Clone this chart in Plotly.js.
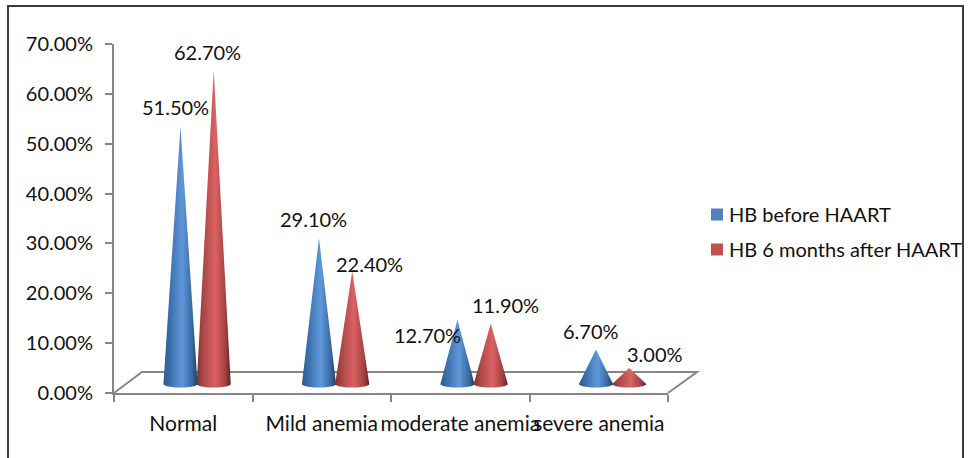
<!DOCTYPE html>
<html><head><meta charset="utf-8">
<script src="https://cdn.plot.ly/plotly-3.0.1.min.js"></script>
<style>html,body{margin:0;padding:0;background:#fff}#c{width:968px;height:458px}</style>
</head><body><div id="c"></div>
<script>
var categories = ["Normal", "Mild anemia", "moderate anemia", "severe anemia"];
var seriesNames = ["HB before HAART", "HB 6 months after HAART"];
var hbBefore = [51.5, 29.1, 12.7, 6.7];
var hbAfter = [62.7, 22.4, 11.9, 3.0];
var yTicks = [0, 10, 20, 30, 40, 50, 60, 70];

// label offsets from each cone tip, px
var beforeShift = [[-5, 19], [-5, 19], [-30, -15], [-5, 19]];
var afterShift = [[-6, 18], [17, 7], [15, 19], [26, 14]];

var W = 968, H = 458, L = 114, R = 668, T = 44, B = 393;
var depthX = 0.1, depthTip = 2, baseY = 1.8, baseRy = 0.7, halfW = 0.123, gap = 0.12;
var textFont = {family: 'Lato, Carlito, sans-serif', size: 20, color: '#111'};
var catFont = {family: 'Lato, Carlito, sans-serif', size: 21, color: '#111'};
var axisGrey = '#868686';
var blueScale = [[0, '#2c5a8c'], [0.18, '#3a6eaa'], [0.55, '#5f98da'], [0.85, '#36689f'], [1, '#1c3f60']];
var redScale = [[0, '#853030'], [0.18, '#a84646'], [0.55, '#dc6262'], [0.85, '#a04040'], [1, '#651f1f']];

function cone(cat, value, side, scale) {
  var cx = cat + 0.5 + depthX + side * gap, xs = [cx], ys = [value + depthTip];
  for (var i = 0; i <= 24; i++) {
    var a = Math.PI * i / 24;
    xs.push(cx - halfW * Math.cos(a));
    ys.push(baseY - baseRy * Math.sin(a));
  }
  xs.push(cx); ys.push(value + depthTip);
  return {type: 'scatter', mode: 'none', x: xs, y: ys, fill: 'toself',
    fillgradient: {type: 'horizontal', colorscale: scale},
    showlegend: false, hoverinfo: 'skip'};
}
var traces = [], annotations = [];
function addSeries(values, side, scale, shifts) {
  values.forEach(function (v, i) {
    traces.push(cone(i, v, side, scale));
    annotations.push({x: i + 0.5 + depthX + side * gap, y: v + depthTip, text: v.toFixed(2) + '%',
      showarrow: false, xanchor: 'center', yanchor: 'middle',
      xshift: shifts[i][0], yshift: shifts[i][1], font: textFont});
  });
}
addSeries(hbBefore, -1, blueScale, beforeShift);
addSeries(hbAfter, 1, redScale, afterShift);

[[seriesNames[0], '#4f81bd'], [seriesNames[1], '#c0504d']].forEach(function (s) {
  traces.push({type: 'bar', name: s[0], legendgroup: s[0], x: [0.5], y: [0], width: [0],
    marker: {color: s[1], line: {width: 0}}, hoverinfo: 'skip'});
});

function px(x) { return (x - L) / (R - L); }
function py(y) { return (B - y) / (B - T); }

var layout = {
  width: W, height: H, margin: {l: L, r: W - R, t: T, b: H - B},
  paper_bgcolor: '#fff', plot_bgcolor: 'rgba(0,0,0,0)', showlegend: true,
  font: textFont,
  xaxis: {range: [0, 4], tickmode: 'array', tickvals: [0.5, 1.5, 2.5, 3.5], ticktext: categories,
    tickangle: 0, ticks: '', ticklabelstandoff: 11, showgrid: false, zeroline: false,
    showline: true, linecolor: axisGrey, linewidth: 2, tickfont: catFont,
    minor: {tickmode: 'array', tickvals: [0, 1, 2, 3, 4], ticks: 'outside', ticklen: 7, tickwidth: 2, tickcolor: axisGrey, showgrid: false}},
  yaxis: {range: [0, 70], tickmode: 'array', tickvals: yTicks,
    ticktext: yTicks.map(function (t) { return t.toFixed(2) + '%'; }),
    ticks: 'outside', ticklen: 7, ticklabelstandoff: 8, tickwidth: 2, tickcolor: axisGrey, showgrid: false, zeroline: false,
    showline: true, linecolor: axisGrey, linewidth: 2, tickfont: textFont},
  legend: {xref: 'container', yref: 'container', x: 689 / W, y: 1 - 195 / H, xanchor: 'left', yanchor: 'top',
    bgcolor: 'rgba(0,0,0,0)', font: textFont, traceorder: 'grouped', tracegroupgap: 6},
  annotations: annotations,
  shapes: [
    {type: 'path', xref: 'paper', yref: 'paper', layer: 'below',
     path: 'M' + px(114) + ',' + py(393) + 'L' + px(142) + ',' + py(372) + 'L' + px(697) + ',' + py(372) + 'L' + px(668) + ',' + py(393),
     line: {color: axisGrey, width: 2}},
    {type: 'rect', xref: 'paper', yref: 'paper', layer: 'below',
     x0: px(8), x1: px(963), y0: py(6), y1: py(470), line: {color: '#3c3c3c', width: 2}}
  ]
};
Plotly.newPlot('c', traces, layout, {displayModeBar: false, staticPlot: true}).then(function () {
  document.querySelectorAll('.legendsymbols').forEach(function (g) {
    g.setAttribute('transform', 'translate(8,0)');
  });
});
</script></body></html>
